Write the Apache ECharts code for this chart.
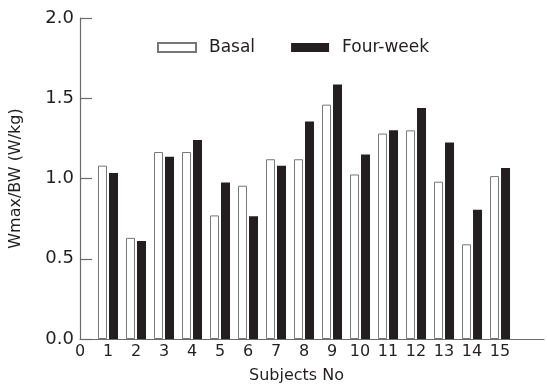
<!DOCTYPE html>
<html><head><meta charset="utf-8">
<script src="https://cdn.jsdelivr.net/npm/echarts@6/dist/echarts.min.js"></script>
<style>html,body{margin:0;padding:0;background:#fff}#c{width:547px;height:390px}</style>
</head><body><div id="c"></div>
<script>
const subjects = [1,2,3,4,5,6,7,8,9,10,11,12,13,14,15];
const basal = [1.08,0.63,1.165,1.165,0.77,0.955,1.12,1.12,1.46,1.025,1.28,1.30,0.98,0.59,1.015];
const fourWeek = [1.035,0.61,1.135,1.24,0.975,0.765,1.08,1.355,1.585,1.15,1.30,1.44,1.225,0.805,1.065];
const yTicks = [0,0.5,1.0,1.5,2.0];
const xTicks = [0,1,2,3,4,5,6,7,8,9,10,11,12,13,14,15];

const font = 'DejaVu Sans';
const axisColor = '#6b6b6b';
const chart = echarts.init(document.getElementById('c'), null, {renderer:'canvas'});
chart.setOption({
  animation:false,
  backgroundColor:'#fff',
  textStyle:{fontFamily:font},
  grid:{left:78, right:0, top:18, bottom:51, containLabel:false},
  legend:{
    left:157, top:39, padding:0, itemWidth:38, itemHeight:9, itemGap:36,
    textStyle:{fontFamily:font, fontSize:17, color:'#231f20', padding:[0,0,0,8]},
    data:[{name:'Basal', icon:'rect'},{name:'Four-week', icon:'rect'}]
  },
  xAxis:{
    type:'value', min:0, max:16.57, interval:1,
    axisLine:{lineStyle:{color:axisColor, width:1.2}},
    axisTick:{show:false},
    splitLine:{show:false},
    axisLabel:{fontFamily:font, fontSize:16, color:'#231f20', margin:5,
      formatter:v => xTicks.includes(v) ? String(v) : ''}
  },
  yAxis:{
    type:'value', min:0, max:2.0, interval:0.5,
    name:'Wmax/BW (W/kg)', nameLocation:'middle', nameGap:56,
    nameTextStyle:{fontFamily:font, fontSize:16, color:'#231f20'},
    axisLine:{show:true, lineStyle:{color:axisColor, width:1.2}},
    axisTick:{show:true, inside:true, length:12, lineStyle:{color:axisColor, width:1.2}},
    splitLine:{show:false},
    axisLabel:{fontFamily:font, fontSize:18, color:'#231f20', margin:6,
      formatter:v => yTicks.includes(v) ? v.toFixed(1) : ''}
  },
  graphic:[{type:'text', left:249, top:368, style:{text:'Subjects No', font:'16px "DejaVu Sans"', fill:'#231f20'}}],
  series:[
    {name:'Basal', type:'bar', barWidth:9, barGap:'22%',
     itemStyle:{color:'#fff', borderColor:'#777', borderWidth:1},
     data: subjects.map((s,i)=>[s, basal[i]])},
    {name:'Four-week', type:'bar', barWidth:9, barGap:'22%',
     itemStyle:{color:'#231f20'},
     data: subjects.map((s,i)=>[s, fourWeek[i]])}
  ]
});
</script></body></html>
